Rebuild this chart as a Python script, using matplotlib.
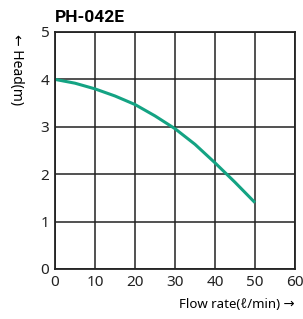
import matplotlib
matplotlib.use("Agg")
import matplotlib.pyplot as plt

flow = [0, 5, 10, 15, 20, 25, 30, 35, 40, 45, 50]
head = [4.0, 3.92, 3.8, 3.65, 3.47, 3.23, 2.96, 2.63, 2.24, 1.83, 1.4]
x_ticks = [0, 10, 20, 30, 40, 50, 60]
y_ticks = [0, 1, 2, 3, 4, 5]

plt.rcParams["font.family"] = ["Noto Sans", "DejaVu Sans"]

fig = plt.figure(figsize=(3.03, 3.19), dpi=100)
ax = fig.add_axes([55 / 303, 1 - 269 / 319, 240 / 303, 237 / 319])

ax.plot(flow, head, color="#14a383", lw=2.2, solid_capstyle="butt")

ax.set_xlim(0, 60)
ax.set_ylim(0, 5)
ax.set_xticks(x_ticks)
ax.set_yticks(y_ticks)
ax.grid(True, color="#222222", lw=1.1)
ax.set_axisbelow(True)
for s in ax.spines.values():
    s.set_color("#222222")
    s.set_linewidth(1.3)
ax.tick_params(length=0, labelsize=11, pad=4, colors="#222222")

fig.text(55 / 303, 1 - 17 / 319, "PH-042E", fontsize=12.5, fontweight="bold",
         ha="left", va="center", family=["Roboto", "DejaVu Sans"])
fig.text(16 / 303, 1 - 70 / 319, "\u2190 Head(m)", rotation=-90, fontsize=10,
         ha="center", va="center", family=["Noto Sans", "DejaVu Sans"])
fig.text(295 / 303, 1 - 305 / 319, "Flow rate(\u2113/min) \u2192", fontsize=9.5,
         ha="right", va="center", family=["Noto Sans", "DejaVu Sans"])

fig.savefig("out.png", dpi=100)
